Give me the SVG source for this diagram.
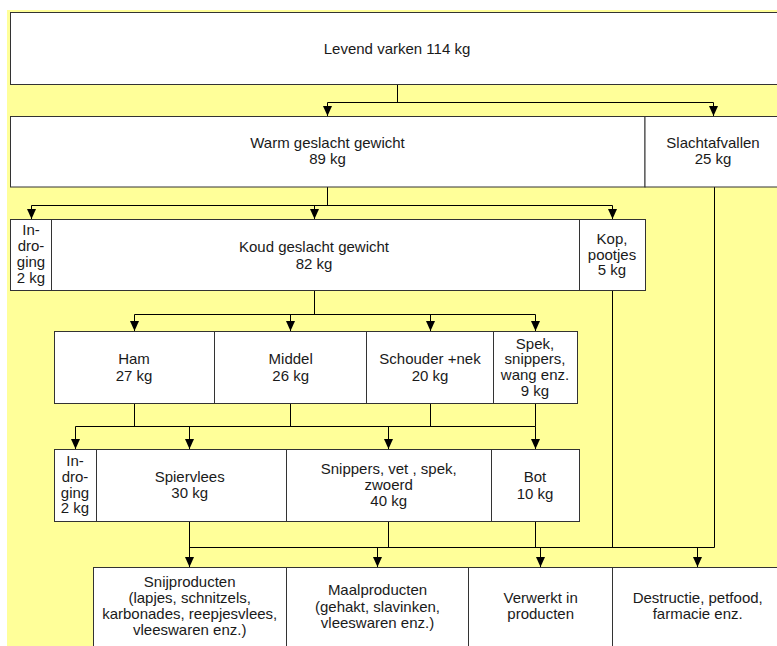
<svg xmlns="http://www.w3.org/2000/svg" width="777" height="646" viewBox="0 0 777 646">
<defs>
<style>
.bx{fill:#fff;stroke:#333;stroke-width:1}
.t{font-family:"Liberation Sans",Arial,sans-serif;font-size:15px;fill:#1a1a1a;text-anchor:middle}
.c{fill:none;stroke:#000;stroke-width:1}
.a{fill:none;stroke:#000;stroke-width:1;marker-end:url(#ah)}
</style>
<marker id="ah" markerUnits="userSpaceOnUse" viewBox="0 0 10 9" refX="10" refY="4.5" markerWidth="10" markerHeight="9" orient="auto">
<path d="M0,0 L10,4.5 L0,9 z" fill="#000"/>
</marker>
</defs>
<rect x="0" y="0" width="777" height="646" fill="#fff"/>
<rect x="7" y="10" width="770" height="636" fill="#FFFF99"/>

<g id="connectors">
<path class="c" d="M397.5 84.5V102.5M327.5 102.5H713.5"/>
<path class="a" d="M327.5 102.5V116"/>
<path class="a" d="M713.5 102.5V116"/>
<path class="c" d="M327.5 187V205.5M31.5 205.5H612.5"/>
<path class="a" d="M31.5 205.5V219"/>
<path class="a" d="M314.5 205.5V219"/>
<path class="a" d="M612.5 205.5V219"/>
<path class="c" d="M314.5 290.5V314.5M134.5 314.5H535.5"/>
<path class="a" d="M134.5 314.5V331"/>
<path class="a" d="M290.5 314.5V331"/>
<path class="a" d="M430.5 314.5V331"/>
<path class="a" d="M535.5 314.5V331"/>
<path class="c" d="M134.5 403.5V426.5M290.5 403.5V426.5M430.5 403.5V426.5M535.5 403.5V426.5M75.5 426.5H535.5"/>
<path class="a" d="M75.5 426.5V449"/>
<path class="a" d="M189.5 426.5V449"/>
<path class="a" d="M388.5 426.5V449"/>
<path class="a" d="M535.5 426.5V449"/>
<path class="c" d="M388.5 521.5V547.5M535.5 521.5V547.5M612.5 290.5V547.5M714.5 187V547.5M189.5 547.5H714.5"/>
<path class="a" d="M189.5 521.5V567"/>
<path class="a" d="M377.5 547.5V567"/>
<path class="a" d="M540.5 547.5V567"/>
<path class="a" d="M697.5 547.5V567"/>
</g>

<g id="levend"><rect class="bx" x="10.5" y="12.5" width="800" height="72"/><text class="t" x="397" y="54">Levend varken 114 kg</text></g>
<g id="warm"><rect class="bx" x="10.5" y="116.5" width="634.5" height="70.5"/><text class="t" x="327.5" y="148.3">Warm geslacht gewicht</text><text class="t" x="327.5" y="164.3">89 kg</text></g>
<g id="slachtafvallen"><rect class="bx" x="645" y="116.5" width="160" height="70.5"/><text class="t" x="713" y="148.3">Slachtafvallen</text><text class="t" x="713" y="164.3">25 kg</text></g>

<g id="indroging1"><rect class="bx" x="10.5" y="219.5" width="41" height="71"/><text class="t" x="31" y="235">In-</text><text class="t" x="31" y="251">dro-</text><text class="t" x="31" y="267">ging</text><text class="t" x="31" y="283.3">2 kg</text></g>
<g id="koud"><rect class="bx" x="51.5" y="219.5" width="528" height="71"/><text class="t" x="314" y="252">Koud geslacht gewicht</text><text class="t" x="314" y="268.5">82 kg</text></g>
<g id="kop"><rect class="bx" x="579.5" y="219.5" width="66" height="71"/><text class="t" x="612" y="244">Kop,</text><text class="t" x="612" y="260">pootjes</text><text class="t" x="612" y="275.3">5 kg</text></g>

<g id="ham"><rect class="bx" x="54.5" y="331.5" width="160" height="72"/><text class="t" x="134" y="364.3">Ham</text><text class="t" x="134" y="381">27 kg</text></g>
<g id="middel"><rect class="bx" x="214.5" y="331.5" width="152" height="72"/><text class="t" x="290.7" y="364.3">Middel</text><text class="t" x="290.7" y="381">26 kg</text></g>
<g id="schouder"><rect class="bx" x="366.5" y="331.5" width="127" height="72"/><text class="t" x="430" y="364.3">Schouder +nek</text><text class="t" x="430" y="381">20 kg</text></g>
<g id="spek"><rect class="bx" x="493.5" y="331.5" width="84" height="72"/><text class="t" x="535" y="348.7">Spek,</text><text class="t" x="535" y="364.3">snippers,</text><text class="t" x="535" y="380">wang enz.</text><text class="t" x="535" y="395.5">9 kg</text></g>

<g id="indroging2"><rect class="bx" x="54.5" y="449.5" width="42" height="72"/><text class="t" x="75" y="465.7">In-</text><text class="t" x="75" y="481.7">dro-</text><text class="t" x="75" y="497.7">ging</text><text class="t" x="75" y="513.3">2 kg</text></g>
<g id="spiervlees"><rect class="bx" x="96.5" y="449.5" width="190" height="72"/><text class="t" x="189.7" y="482.3">Spiervlees</text><text class="t" x="189.7" y="498.3">30 kg</text></g>
<g id="snippers"><rect class="bx" x="286.5" y="449.5" width="205" height="72"/><text class="t" x="388.7" y="474">Snippers, vet , spek,</text><text class="t" x="388.7" y="490">zwoerd</text><text class="t" x="388.7" y="506">40 kg</text></g>
<g id="bot"><rect class="bx" x="491.5" y="449.5" width="88" height="72"/><text class="t" x="535" y="482.3">Bot</text><text class="t" x="535" y="498.7">10 kg</text></g>

<g id="snijproducten"><rect class="bx" x="93.5" y="567.5" width="193" height="100"/><text class="t" x="189.7" y="587.3">Snijproducten</text><text class="t" x="189.7" y="603.3">(lapjes, schnitzels,</text><text class="t" x="189.7" y="619.3">karbonades, reepjesvlees,</text><text class="t" x="189.7" y="635.3">vleeswaren enz.)</text></g>
<g id="maalproducten"><rect class="bx" x="286.5" y="567.5" width="182" height="100"/><text class="t" x="377.5" y="595">Maalproducten</text><text class="t" x="377.5" y="611.7">(gehakt, slavinken,</text><text class="t" x="377.5" y="627.7">vleeswaren enz.)</text></g>
<g id="verwerkt"><rect class="bx" x="468.5" y="567.5" width="144" height="100"/><text class="t" x="540.7" y="603.3">Verwerkt in</text><text class="t" x="540.7" y="619.3">producten</text></g>
<g id="destructie"><rect class="bx" x="612.5" y="567.5" width="200" height="100"/><text class="t" x="697.7" y="603.3">Destructie, petfood,</text><text class="t" x="697.7" y="619.3">farmacie enz.</text></g>
</svg>
